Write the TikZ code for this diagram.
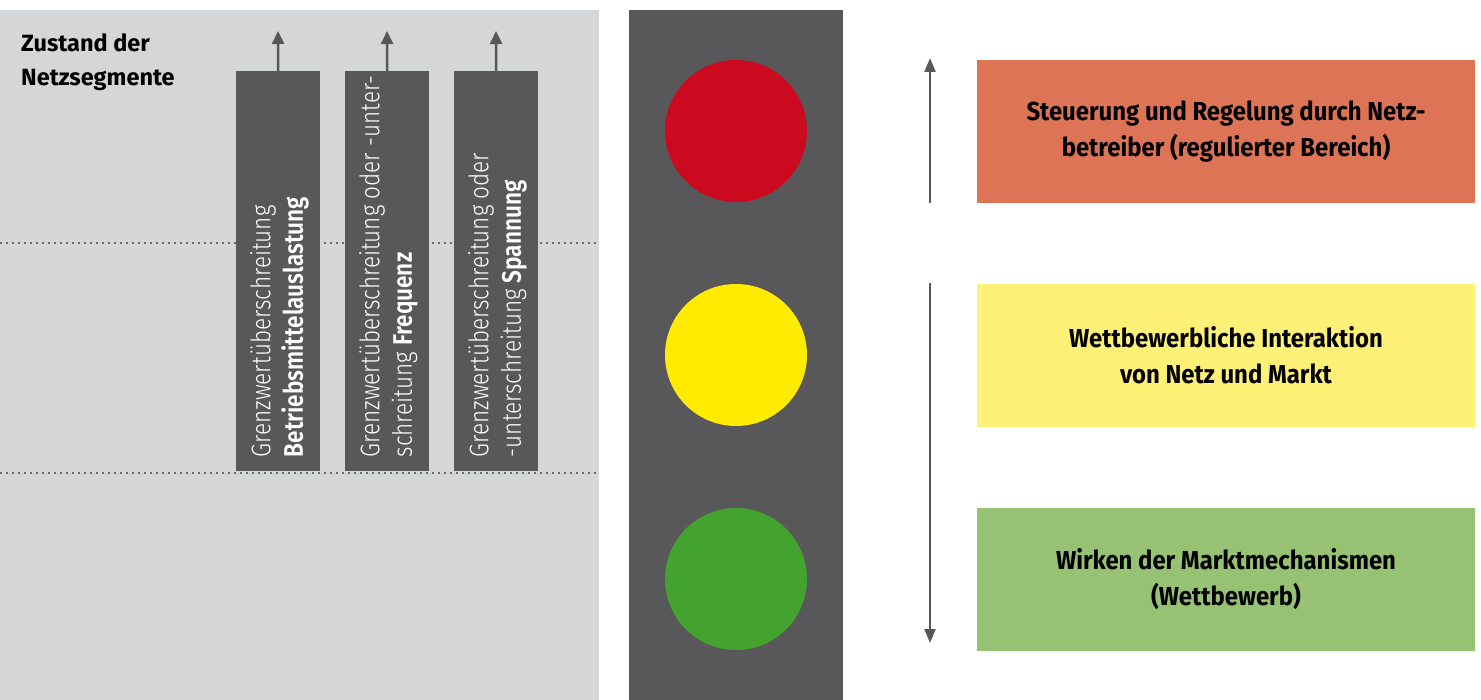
\documentclass[tikz,border=0pt]{standalone}
\usepackage{fontspec}
\setmainfont{Fira Sans}
\newfontfamily\titlefont{Fira Sans}
\newfontfamily\boxfont{Fira Sans}[FakeStretch=0.92]
\newfontfamily\barfont{Fira Sans Light}[FakeStretch=0.84, BoldFont={Fira Sans SemiBold}, BoldFeatures={FakeStretch=0.84}]
\usetikzlibrary{arrows.meta}
\definecolor{panelgray}{HTML}{D5D6D8}
\definecolor{darkgray}{HTML}{58585A}
\definecolor{dotgray}{HTML}{6A6A6C}
\definecolor{lred}{HTML}{CB0A1F}
\definecolor{lyellow}{HTML}{FFEB00}
\definecolor{lgreen}{HTML}{44A22F}
\definecolor{boxred}{HTML}{DE7456}
\definecolor{boxyellow}{HTML}{FFF077}
\definecolor{boxgreen}{HTML}{97C173}
\begin{document}
\begin{tikzpicture}[x=1pt,y=-1pt,
  panel/.style={draw=none, inner sep=0pt, anchor=north west},
  barbox/.style={fill=darkgray, draw=none, inner sep=0pt, anchor=north west, minimum width=84pt, minimum height=400pt},
  bartext/.style={rotate=90, anchor=north west, align=left, inner sep=0pt, text=white,
    font=\barfont\fontsize{26.8}{32.5}\selectfont},
  lamp/.style={circle, draw=none, inner sep=0pt, minimum size=142pt},
  statebox/.style={draw=none, inner sep=0pt, minimum width=498pt, minimum height=143pt, align=center,
    font=\boxfont\bfseries\fontsize{26}{36}\selectfont},
  sepline/.style={draw=dotgray, line width=1.8pt, dash pattern=on 1.8pt off 4.2pt},
  arr/.style={draw=darkgray, line width=2.4pt, -{Triangle[length=13pt,width=12pt]}},
  sidearr/.style={draw=darkgray, line width=2.2pt, -{Triangle[length=14pt,width=11pt]}}
]
\useasboundingbox (0,0) rectangle (1481,700);
% left panel
\node[panel, fill=panelgray, minimum width=599pt, minimum height=690pt] (left) at (0,10) {};
\draw[sepline] (0,243) -- (599,243);
\draw[sepline] (0,473) -- (599,473);
\node[anchor=north west, align=left, inner sep=0pt, font=\titlefont\bfseries\fontsize{23.5}{34}\selectfont] (title) at (21,33) {Zustand der\\Netzsegmente};
% bars
\node[barbox] (b1) at (236,71) {};
\node[barbox] (b2) at (345,71) {};
\node[barbox] (b3) at (454,71) {};
\node[bartext] (t1) at ([xshift=14pt,yshift=14pt]b1.south west) {Grenzwertüberschreitung\\\textbf{Betriebsmittelauslastung}};
\node[bartext] (t2) at ([xshift=14pt,yshift=14pt]b2.south west) {Grenzwertüberschreitung oder -unter-\\schreitung \textbf{Frequenz}};
\node[bartext] (t3) at ([xshift=14pt,yshift=14pt]b3.south west) {Grenzwertüberschreitung oder\\-unterschreitung \textbf{Spannung}};
\coordinate (a1) at (278,31);
\coordinate (a2) at (387,31);
\coordinate (a3) at (496,31);
\draw[arr] (b1.north) -- (a1);
\draw[arr] (b2.north) -- (a2);
\draw[arr] (b3.north) -- (a3);
% traffic light
\node[panel, fill=darkgray, minimum width=214pt, minimum height=690pt] (light) at (629,10) {};
\node[lamp, fill=lred] (red) at (736,131) {};
\node[lamp, fill=lyellow] (yellow) at (736,355) {};
\node[lamp, fill=lgreen] (green) at (736,579) {};
% side arrows
\coordinate (u0) at (930,203);
\coordinate (u1) at (930,58);
\coordinate (d0) at (930,283);
\coordinate (d1) at (930,643);
\draw[sidearr] (u0) -- (u1);
\draw[sidearr] (d0) -- (d1);
% state boxes
\node[statebox, fill=boxred] (sr) at (1226,131.5) {Steuerung und Regelung durch Netz-\\betreiber (regulierter Bereich)};
\node[statebox, fill=boxyellow] (sy) at (1226,355.5) {Wettbewerbliche Interaktion\\von Netz und Markt};
\node[statebox, fill=boxgreen] (sg) at (1226,579.5) {Wirken der Marktmechanismen\\(Wettbewerb)};
\end{tikzpicture}
\end{document}
